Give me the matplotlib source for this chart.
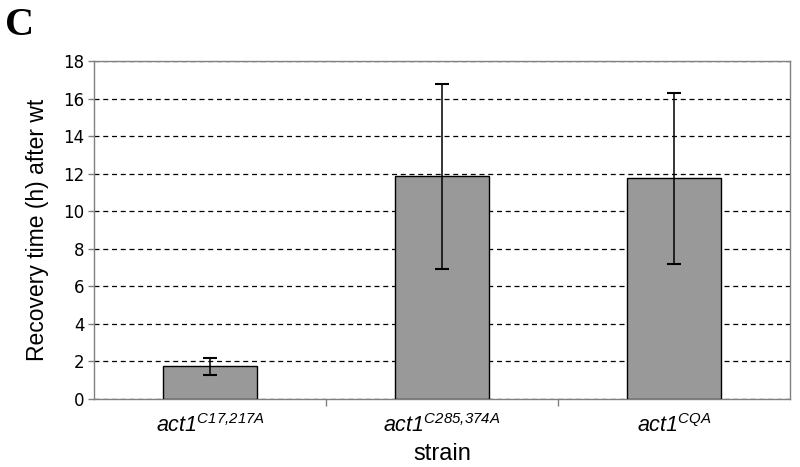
import matplotlib
matplotlib.use("Agg")
import matplotlib.pyplot as plt
import numpy as np

strains = [r"$act1^{C17{,}217A}$", r"$act1^{C285{,}374A}$", r"$act1^{CQA}$"]
recovery = [1.75, 11.85, 11.75]
errors = [0.45, 4.95, 4.55]
yticks = [0, 2, 4, 6, 8, 10, 12, 14, 16, 18]

plt.rcParams['mathtext.fontset'] = 'custom'
plt.rcParams['mathtext.it'] = 'Liberation Sans:italic'
plt.rcParams['mathtext.rm'] = 'Liberation Sans:italic'
plt.rcParams['mathtext.default'] = 'it'

fig = plt.figure(figsize=(8, 4.67), dpi=100)
ax = fig.add_axes([0.1175, 0.1456, 0.87, 0.7238])

x = np.arange(len(strains))
ax.bar(x, recovery, width=0.405, color='#999999', edgecolor='black', linewidth=1.0, zorder=3)
ax.errorbar(x, recovery, yerr=errors, fmt='none', ecolor='black', elinewidth=1.1,
            capsize=5, capthick=1.5, zorder=4)

ax.set_xlim(-0.5, 2.5)
ax.set_ylim(0, 18)
ax.set_yticks(yticks)
ax.set_yticklabels([str(t) for t in yticks], fontfamily='DejaVu Sans', fontsize=12)
ax.yaxis.grid(True, linestyle=(0, (4, 3)), color='black', linewidth=0.9, zorder=0)
ax.set_axisbelow(True)

ax.set_xticks(x)
ax.set_xticklabels(strains, fontsize=15.5)
ax.tick_params(axis='x', which='major', length=0, pad=10)
ax.set_xticks([0.5, 1.5], minor=True)
ax.tick_params(axis='x', which='minor', length=5, color='#808080', width=1)
ax.tick_params(axis='y', length=4, color='#808080', width=1, pad=3)

for s in ax.spines.values():
    s.set_color('#808080')
    s.set_linewidth(1.0)

ax.set_xlabel('strain', fontfamily='Liberation Sans', fontsize=17, labelpad=5)
ax.set_ylabel('Recovery time (h) after wt', fontfamily='Liberation Sans', fontsize=16.5, labelpad=10)

fig.text(0.006, 0.925, 'C', fontfamily='Liberation Serif', fontweight='bold', fontsize=29)

fig.savefig('out.png', dpi=100)
